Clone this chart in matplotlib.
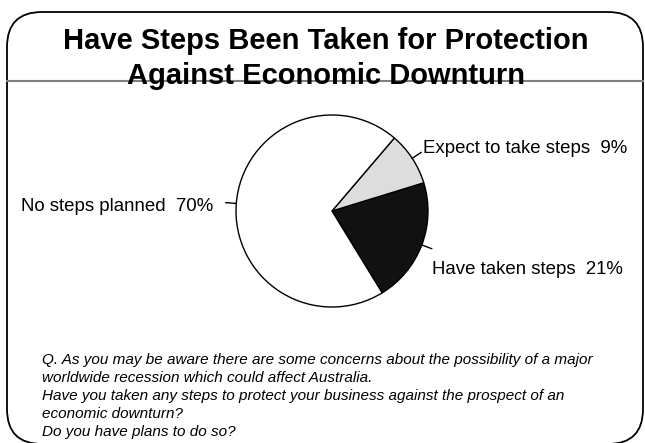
import numpy as np
import matplotlib.pyplot as plt
from matplotlib.patches import FancyBboxPatch

plt.rcParams['font.family'] = ['Liberation Sans', 'DejaVu Sans']

categories = ['Have taken steps', 'Expect to take steps', 'No steps planned']
shares = [21, 9, 70]
colors = ['#111111', '#dddddd', '#ffffff']

title_lines = ['Have Steps Been Taken for Protection', 'Against Economic Downturn']
question = ['Q. As you may be aware there are some concerns about the possibility of a major',
            'worldwide recession which could affect Australia.',
            'Have you taken any steps to protect your business against the prospect of an',
            'economic downturn?',
            'Do you have plans to do so?']

W, H = 645, 443
fig = plt.figure(figsize=(W / 100, H / 100), dpi=100)
ax = fig.add_axes([0, 0, 1, 1])

# frame with rounded corners
box = FancyBboxPatch((7, H - 444), 636, 432, boxstyle='round,pad=0,rounding_size=35',
                     facecolor='white', edgecolor='black', linewidth=1.3, zorder=0)
ax.add_patch(box)
ax.plot([7, 643], [H - 81, H - 81], color='#808080', linewidth=1.5, zorder=1)

for i, line in enumerate(title_lines):
    ax.text(326, H - (49 + 35 * i), line, ha='center', va='baseline',
            fontsize=21, fontweight='bold', zorder=2)

cx, cy, r = 332, H - 211, 96
wedges, _ = ax.pie(shares, colors=colors, startangle=-58.5, counterclock=True,
                   center=(cx, cy), radius=r,
                   wedgeprops=dict(edgecolor='black', linewidth=1))

# label anchors (pixels from top-left) and alignment
label_pos = [(432, 269, 'left'), (423, 148, 'left'), (213, 206, 'right')]
for w, name, v, (lx, ly, ha) in zip(wedges, categories, shares, label_pos):
    a = np.deg2rad((w.theta1 + w.theta2) / 2)
    ax.plot([cx + r * np.cos(a), cx + r * 1.11 * np.cos(a)],
            [cy + r * np.sin(a), cy + r * 1.11 * np.sin(a)], color='black', linewidth=1)
    ax.text(lx, H - ly, f'{name}  {v}%', ha=ha, va='center', fontsize=13.4)

for i, line in enumerate(question):
    ax.text(42, H - (360 + 18 * i), line, ha='left', va='center',
            fontsize=11, style='italic')

ax.set_xlim(0, W)
ax.set_ylim(0, H)
ax.set_aspect('auto')
ax.axis('off')

fig.savefig('out.png', dpi=100)
